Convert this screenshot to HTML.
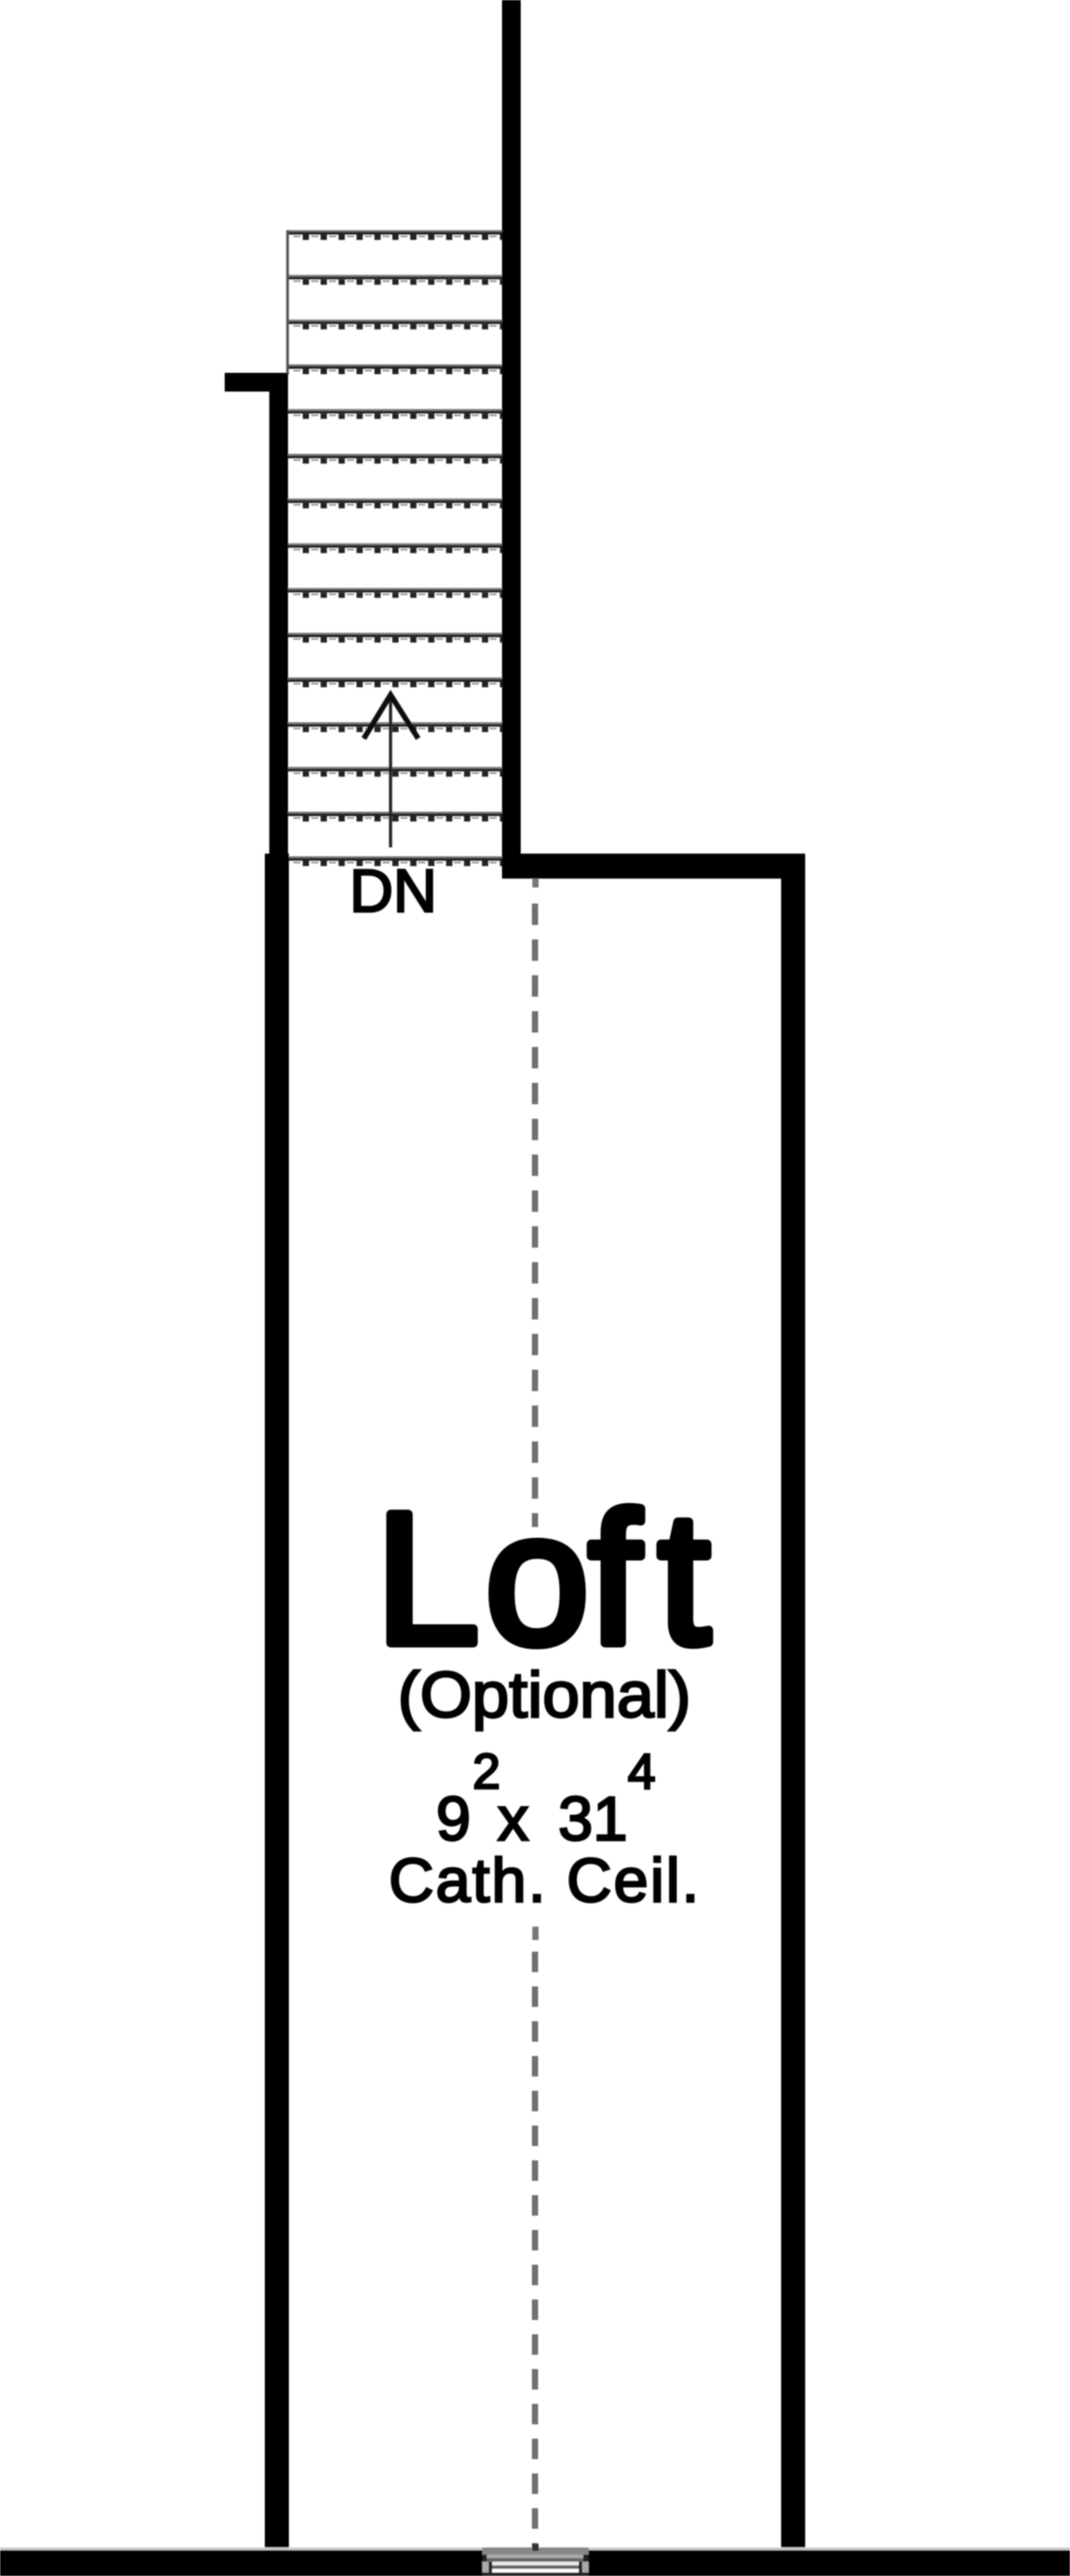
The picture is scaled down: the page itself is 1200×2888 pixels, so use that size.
<!DOCTYPE html>
<html>
<head>
<meta charset="utf-8">
<style>
html,body{margin:0;padding:0;background:#fff;}
svg{display:block;}
text{font-family:"Liberation Sans",sans-serif;fill:#000;stroke:#000;}
</style>
</head>
<body>
<svg width="1200" height="2888" viewBox="0 0 1200 2888" xmlns="http://www.w3.org/2000/svg">
<defs>
<filter id="b" x="0" y="0" width="100%" height="100%"><feGaussianBlur stdDeviation="0.9"/></filter>
<g id="step">
<rect x="323" y="258" width="241" height="2" fill="#777"/>
<rect x="323" y="260" width="241" height="3" fill="#222"/>
<line x1="339.500" y1="266" x2="564" y2="266" stroke="#222" stroke-width="6" stroke-dasharray="7 13.100"/>
<line x1="329" y1="265" x2="564" y2="265" stroke="#999" stroke-width="2" stroke-dasharray="8 12"/>
</g>
</defs>
<rect width="1200" height="2888" fill="#fff"/>
<g filter="url(#b)">
<!-- stairs -->
<use href="#step" y="0"/>
<use href="#step" y="50.2"/>
<use href="#step" y="100.300"/>
<use href="#step" y="150.500"/>
<use href="#step" y="200.600"/>
<use href="#step" y="250.800"/>
<use href="#step" y="300.900"/>
<use href="#step" y="351.100"/>
<use href="#step" y="401.200"/>
<use href="#step" y="451.400"/>
<use href="#step" y="501.500"/>
<use href="#step" y="551.700"/>
<use href="#step" y="601.800"/>
<use href="#step" y="652"/>
<use href="#step" y="702"/>
<rect x="321" y="258" width="3" height="162" fill="#555"/>
<!-- arrow -->
<line x1="438" y1="779" x2="438" y2="950" stroke="#222" stroke-width="3.500"/>
<polyline points="408,828 438,779 469,828" fill="none" stroke="#111" stroke-width="6"/>
<!-- walls -->
<rect x="563" y="0" width="21" height="985" fill="#000"/>
<rect x="252" y="418" width="71" height="21" fill="#000"/>
<rect x="302" y="418" width="21" height="540" fill="#000"/>
<rect x="297" y="957" width="27" height="1905" fill="#000"/>
<rect x="564" y="957" width="339" height="28" fill="#000"/>
<rect x="876" y="957" width="27" height="1905" fill="#000"/>
<!-- ridge dashes -->
<rect x="597" y="985" width="7" height="10" fill="#777"/>
<line x1="600" y1="1013" x2="600" y2="1712" stroke="#707070" stroke-width="7" stroke-dasharray="24 16.200"/>
<rect x="597" y="2160" width="7" height="15" fill="#777"/>
<line x1="600" y1="2188" x2="600" y2="2860" stroke="#707070" stroke-width="7" stroke-dasharray="23 16"/>
<!-- bottom wall -->
<rect x="0" y="2856" width="1200" height="3" fill="#ccc"/>
<rect x="0" y="2859" width="1200" height="29" fill="#000"/>
<!-- door -->
<rect x="541" y="2856" width="119" height="32" fill="#222"/>
<rect x="541" y="2856" width="119" height="8" fill="#888"/>
<rect x="546" y="2864" width="108" height="4" fill="#aaa"/>
<rect x="546" y="2868" width="108" height="4" fill="#666"/>
<rect x="552" y="2872" width="97" height="4" fill="#eee"/>
<rect x="552" y="2876" width="97" height="4" fill="#666"/>
<rect x="552" y="2880" width="97" height="4" fill="#fff"/>
<rect x="541" y="2872" width="7" height="12" fill="#aaa"/>
<rect x="653" y="2872" width="7" height="12" fill="#aaa"/>
<rect x="597" y="2852" width="7" height="8" fill="#333"/>
<!-- labels -->
<text x="392" y="1022" font-size="68" stroke-width="2.500" textLength="98" lengthAdjust="spacingAndGlyphs">DN</text>
<text x="421 544 660 738" y="1842" font-size="210" stroke-width="10" stroke-linejoin="round" stroke-linecap="round" style="paint-order:stroke">Loft</text>
<text x="446" y="1925" font-size="72" stroke-width="2.500" textLength="329" lengthAdjust="spacingAndGlyphs">(Optional)</text>
<text x="489" y="2063" font-size="70" stroke-width="2.500">9</text>
<text x="558" y="2063" font-size="70" stroke-width="2.500">x</text>
<text x="626" y="2063" font-size="70" stroke-width="2.500">31</text>
<text x="530" y="2005" font-size="56" stroke-width="2.500">2</text>
<text x="704" y="2005" font-size="56" stroke-width="2.500">4</text>
<text x="436" y="2132" font-size="70" stroke-width="2.500" textLength="348" lengthAdjust="spacing">Cath. Ceil.</text>
</g>
</svg>
</body>
</html>
